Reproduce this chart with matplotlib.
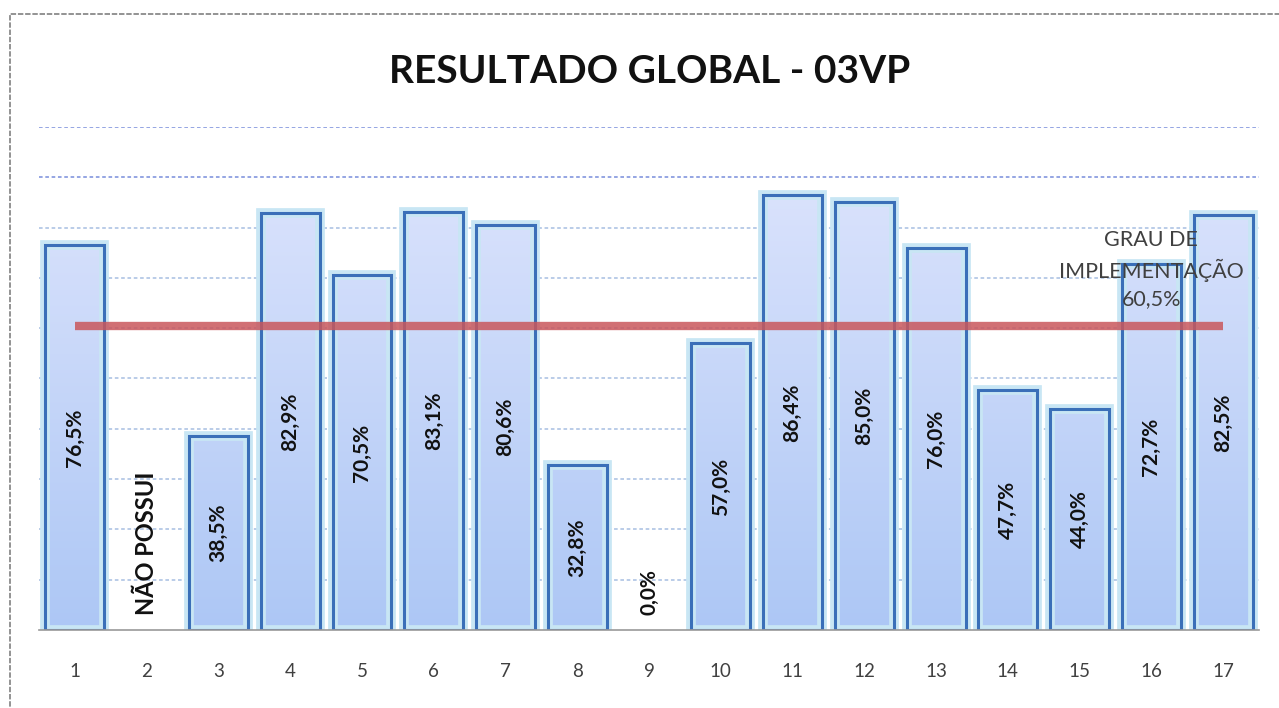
import matplotlib
matplotlib.use("Agg")
import matplotlib.pyplot as plt
import matplotlib.patheffects as pe
from matplotlib.colors import LinearSegmentedColormap
from matplotlib.patches import Rectangle
import numpy as np

# chart data
categories = [str(i) for i in range(1, 18)]
values = [76.5, 0.0, 38.5, 82.9, 70.5, 83.1, 80.6, 32.8, 0.0,
          57.0, 86.4, 85.0, 76.0, 47.7, 44.0, 72.7, 82.5]
value_labels = ["76,5%", "NÃO POSSUI", "38,5%", "82,9%", "70,5%", "83,1%",
                "80,6%", "32,8%", "0,0%", "57,0%", "86,4%", "85,0%",
                "76,0%", "47,7%", "44,0%", "72,7%", "82,5%"]
target = 60.5
target_label = "GRAU DE\nIMPLEMENTAÇÃO\n60,5%"
title = "RESULTADO GLOBAL - 03VP"

plt.rcParams['font.family'] = ['Lato', 'DejaVu Sans']

fig = plt.figure(figsize=(12.79, 7.08), dpi=100)
ax = fig.add_axes([0.0305, 0.1102, 0.9539, 0.7105])

x = np.arange(len(categories))
bars = ax.bar(x, values, width=0.82, facecolor='none', edgecolor='#3a6fb8',
              linewidth=2.2, zorder=2)

grad = LinearSegmentedColormap.from_list('barfill', ['#adc7f5', '#e0e6fd'])
img = np.linspace(0, 1, 256).reshape(-1, 1)
for b, v in zip(bars, values):
    if v <= 0:
        b.set_visible(False)
        continue
    b.set_path_effects([pe.Stroke(linewidth=7, foreground='#c8e6f4'), pe.Normal()])
    x0 = b.get_x()
    im = ax.imshow(img, extent=[x0, x0 + b.get_width(), 0, 100], origin='lower',
                   aspect='auto', cmap=grad, zorder=1.9)
    im.set_clip_path(b)

# target line
ax.plot(x, [target] * len(x), color='#c9575c', linewidth=6, alpha=0.85,
        solid_capstyle='butt', zorder=3)
ax.text(x[-2], 71.6, target_label, ha='center', va='center',
        fontsize=15.5, color='#404040', linespacing=1.45, zorder=5)

# value labels
for xi, v, lab in zip(x, values, value_labels):
    if v > 0:
        ax.text(xi, v / 2, lab, rotation=90, ha='center', va='center',
                fontsize=15, fontweight='bold', color='#111111', zorder=4)
    else:
        fs = 17 if lab == "NÃO POSSUI" else 15
        ax.text(xi, 3, lab, rotation=90, ha='center', va='bottom',
                fontsize=fs, fontweight='bold', color='#111111', zorder=4)

ax.set_xlim(-0.5, len(x) - 0.5)
ax.set_ylim(0, 100)
ax.set_yticks(np.arange(10, 101, 10))
ax.set_yticklabels([])
ax.set_xticks(x)
ax.set_xticklabels(categories)
ax.tick_params(axis='x', length=0, pad=24, labelsize=13.5, labelcolor='#404040')
ax.tick_params(axis='y', length=0)

ax.set_axisbelow(True)
for yv in range(10, 101, 10):
    col = '#8c9ee0' if yv >= 90 else '#b4c8e6'
    ax.axhline(yv, color=col, linewidth=1.3, linestyle=(0, (2, 1.5)), zorder=0.5)

for s in ['top', 'right', 'left']:
    ax.spines[s].set_visible(False)
ax.spines['bottom'].set_color('#999999')
ax.spines['bottom'].set_linestyle((0, (1, 1)))
ax.spines['bottom'].set_linewidth(1.2)

fig.text(0.508, 0.899, title, ha='center', va='center', fontsize=28,
         fontweight='bold', color='#111111')

# dashed outer frame
fig.patches.append(Rectangle((10 / 1279, -0.05), 1.1, 1.05 - 14 / 708,
                             transform=fig.transFigure, fill=False,
                             edgecolor='#8a8a8a', linestyle=(0, (3, 1)),
                             linewidth=1.3, clip_on=False))

fig.savefig('out.png', dpi=100)
